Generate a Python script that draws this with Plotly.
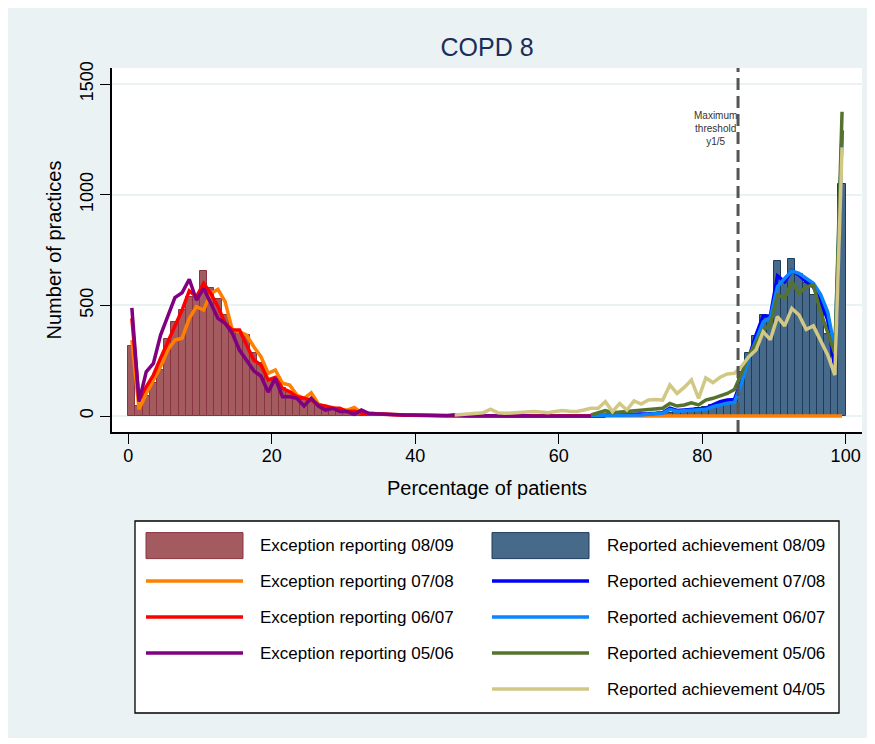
import plotly.graph_objects as go

# ---------------- data (bin start = percentage of patients, 1% bins) ----------------
exc_0809_start = 0
exc_0809 = [316, 45, 92, 148, 210, 348, 425, 479, 539, 540,
            655, 580, 530, 455, 390, 376, 368, 284, 240, 165,
            160, 125, 108, 82, 72, 70, 50, 42, 35, 27,
            20, 18, 15, 12, 10, 8, 7, 6, 5, 4,
            4, 3, 3, 2, 2, 1]

exc_0708_start = 0
exc_0708 = [343, 30, 102, 163, 223, 298, 343, 351, 441, 494,
            479, 554, 572, 517, 389, 381, 366, 313, 268, 193,
            208, 148, 140, 95, 80, 105, 54, 42, 39, 27,
            27, 39, 15, 12, 10, 8, 6, 5, 4, 3,
            3, 2, 2, 1, 1, 1, 0, 0, 0, 0,
            0, 0, 0, 0, 0, 0, 0, 0, 0, 0,
            0, 0, 0, 0, 0, 0, 0, 0, 0, 0,
            0, 0, 0, 0, 0, 0, 0, 0, 0, 0,
            0, 0, 0, 0, 0, 0, 0, 0, 0, 0,
            0, 0, 0, 0, 0, 0, 0, 0, 0, 0]

exc_0607_start = 0
exc_0607 = [441, 72, 132, 185, 261, 336, 404, 479, 565, 539,
            600, 554, 494, 419, 389, 389, 320, 253, 230, 163,
            175, 125, 110, 87, 80, 72, 50, 45, 35, 35,
            20, 22, 12, 10, 8, 6, 5, 4, 3, 3,
            2, 2, 1, 1, 1, 0, 1, 0, 0, 1,
            0, 0, 0, 0, 0, 0, 0, 0, 0, 0,
            0, 0, 0, 0, 0, 0, 0]

exc_0506_start = 0
exc_0506 = [489, 65, 200, 238, 366, 449, 535, 557, 618, 524,
            577, 509, 441, 419, 374, 298, 250, 204, 180, 108,
            170, 87, 87, 80, 45, 80, 45, 27, 35, 20,
            20, 8, 27, 12, 10, 8, 6, 5, 5, 4,
            3, 3, 2, 3, 2, 6, 2, 1, 1, 2,
            1, 1, 0, 1, 0, 1, 0, 0, 1, 0,
            0, 0, 0, 0, 0, 0, 0]

rep_0809_start = 60
rep_0809 = [0, 0, 0, 0, 0, 1, 1, 2, 2, 3,
            4, 5, 6, 8, 10, 14, 18, 22, 28, 34,
            42, 50, 58, 66, 76, 198, 284, 362, 455, 452,
            700, 602, 709, 642, 600, 548, 500, 370, 223, 1047]

rep_0708_start = 64
rep_0708 = [2, 3, 3, 4, 4, 5,
            5, 6, 10, 12, 15, 35, 25, 27, 30, 33,
            35, 50, 65, 72, 75, 163, 268, 366, 452, 452,
            633, 607, 657, 637, 607, 584, 517, 434, 208, 1290]

rep_0607_start = 64
rep_0607 = [2, 2, 3, 3, 4, 4,
            5, 5, 8, 10, 12, 30, 22, 24, 26, 28,
            30, 42, 50, 58, 62, 150, 260, 345, 425, 445,
            585, 622, 655, 645, 620, 600, 550, 470, 300, 1280]

rep_0506_start = 64
rep_0506 = [5, 15, 24, 15, 18, 20,
            22, 24, 27, 30, 35, 57, 45, 50, 60, 50,
            72, 80, 92, 102, 120, 193, 276, 328, 389, 411,
            547, 532, 607, 554, 584, 592, 471, 381, 283, 1375]

rep_0405_start = 45
rep_0405 = [5, 8, 10, 12, 15,
            31, 15, 12, 15, 18, 20, 20, 18, 15, 20,
            25, 22, 20, 27, 35, 35, 65, 20, 57, 27,
            68, 54, 72, 75, 72, 140, 102, 129, 163, 80,
            172, 151, 175, 190, 193, 225, 268, 298, 381, 345,
            449, 407, 486, 456, 391, 407, 343, 276, 185, 1214]

threshold = 85
x_ticks = [0, 20, 40, 60, 80, 100]
y_ticks = [0, 500, 1000, 1500]

# ---------------- styles ----------------
FONT = "Liberation Sans, Arial, Helvetica, sans-serif"
BG = "#eaf2f3"
EXC_FILL, EXC_EDGE = "#a45b5f", "#8a3442"
REP_FILL, REP_EDGE = "#486a8a", "#1e3d5c"
LW = 3.5
C_ORANGE, C_RED, C_PURPLE = "#ff8000", "#ff0000", "#800080"
C_BLUE, C_LBLUE, C_GREEN, C_KHAKI = "#0000ff", "#0a84ff", "#55732d", "#d2c886"

series_lines = [
    ("Exception reporting 07/08", exc_0708_start, exc_0708, C_ORANGE),
    ("Exception reporting 06/07", exc_0607_start, exc_0607, C_RED),
    ("Exception reporting 05/06", exc_0506_start, exc_0506, C_PURPLE),
    ("Reported achievement 07/08", rep_0708_start, rep_0708, C_BLUE),
    ("Reported achievement 06/07", rep_0607_start, rep_0607, C_LBLUE),
    ("Reported achievement 05/06", rep_0506_start, rep_0506, C_GREEN),
    ("Reported achievement 04/05", rep_0405_start, rep_0405, C_KHAKI),
]


def centres(start, vals):
    return [start + i + 0.5 for i in range(len(vals))]


fig = go.Figure()
fig.add_trace(go.Bar(x=centres(exc_0809_start, exc_0809), y=exc_0809, width=1,
                     marker=dict(color=EXC_FILL, line=dict(color=EXC_EDGE, width=1)),
                     name="Exception reporting 08/09", showlegend=False))
fig.add_trace(go.Bar(x=centres(rep_0809_start, rep_0809), y=rep_0809, width=1,
                     marker=dict(color=REP_FILL, line=dict(color=REP_EDGE, width=1)),
                     name="Reported achievement 08/09", showlegend=False))
for name, st, vals, col in series_lines:
    fig.add_trace(go.Scatter(x=centres(st, vals), y=vals, mode="lines", name=name,
                             line=dict(color=col, width=LW), showlegend=False))

# ---------------- layout / geometry ----------------
# the page places the figure 8px from the window's top-left corner
OFF = 8
W, H = 875, 744
ML, MT = 112 - OFF, 68 - OFF
PW, PH = 750, 364
MR, MB = W - ML - PW, H - MT - PH


def px(x):
    return (x - OFF - ML) / PW


def py(y):
    return (MT + PH - (y - OFF)) / PH


shapes = [
    # graph region background
    dict(type="rect", xref="paper", yref="paper", x0=px(0), x1=px(869), y0=py(738), y1=py(0),
         fillcolor=BG, line=dict(width=0), layer="below"),
    # plot region
    dict(type="rect", xref="paper", yref="paper", x0=0, x1=1, y0=0, y1=1,
         fillcolor="white", line=dict(width=0), layer="below"),
    # threshold line
    dict(type="line", xref="x", yref="paper", x0=threshold, x1=threshold, y0=0, y1=1,
         line=dict(color="#555555", width=3, dash="12px,6px"), layer="above"),
    # legend box
    dict(type="rect", xref="paper", yref="paper", x0=px(135), x1=px(839), y0=py(713), y1=py(521),
         fillcolor="white", line=dict(color="black", width=1.3)),
]

annotations = [
    dict(text="Maximum<br>threshold<br>y1/5", x=81.85, y=1300, xref="x", yref="y",
         showarrow=False, font=dict(family=FONT, size=10, color="#333333"), align="center"),
]

rows = [545.6, 581, 617, 653, 689]
left_items = [("Exception reporting 08/09", "bar", EXC_FILL, EXC_EDGE),
              ("Exception reporting 07/08", "line", C_ORANGE, None),
              ("Exception reporting 06/07", "line", C_RED, None),
              ("Exception reporting 05/06", "line", C_PURPLE, None)]
right_items = [("Reported achievement 08/09", "bar", REP_FILL, REP_EDGE),
               ("Reported achievement 07/08", "line", C_BLUE, None),
               ("Reported achievement 06/07", "line", C_LBLUE, None),
               ("Reported achievement 05/06", "line", C_GREEN, None),
               ("Reported achievement 04/05", "line", C_KHAKI, None)]

for items, sx0, sx1, tx in [(left_items, 146, 243, 258), (right_items, 492, 589, 605)]:
    for (label, kind, col, edge), ry in zip(items, rows):
        if kind == "bar":
            shapes.append(dict(type="rect", xref="paper", yref="paper",
                               x0=px(sx0), x1=px(sx1), y0=py(ry + 13), y1=py(ry - 13),
                               fillcolor=col, line=dict(color=edge, width=1)))
        else:
            shapes.append(dict(type="line", xref="paper", yref="paper",
                               x0=px(sx0), x1=px(sx1), y0=py(ry), y1=py(ry),
                               line=dict(color=col, width=LW)))
        annotations.append(dict(text=label, xref="paper", yref="paper", x=px(tx), y=py(ry),
                                xanchor="left", yanchor="middle", showarrow=False,
                                font=dict(family=FONT, size=17, color="black")))

fig.update_layout(
    width=W, height=H,
    margin=dict(l=ML, r=MR, t=MT, b=MB, pad=0),
    paper_bgcolor="white", plot_bgcolor="white",
    font=dict(family=FONT, color="black"),
    title=dict(text="COPD 8", x=0.5, xref="paper", xanchor="center",
               y=1 - (47.3 - OFF) / H, yref="container", yanchor="middle",
               font=dict(family=FONT, size=25, color="#1c2d5a")),
    barmode="overlay",
    bargap=0,
    shapes=shapes,
    annotations=annotations,
    showlegend=False,
)
fig.update_xaxes(range=[-2.27, 102.28], tickvals=x_ticks, ticks="outside", ticklen=10,
                 tickwidth=1.3, tickcolor="black", showline=True, linecolor="black", linewidth=1.5,
                 showgrid=False, zeroline=False, tickfont=dict(size=18), ticklabelstandoff=-3,
                 title=dict(text="Percentage of patients", font=dict(size=20), standoff=16))
fig.update_yaxes(range=[-72.3, 1572.5], tickvals=y_ticks, ticks="outside", ticklen=10,
                 tickwidth=1.3, tickcolor="black", showline=True, linecolor="black", linewidth=1.5,
                 showgrid=True, gridcolor=BG, gridwidth=2, zeroline=False, tickangle=-90,
                 tickfont=dict(size=18),
                 title=dict(text="Number of practices", font=dict(size=20), standoff=10))

fig.write_html("out.html")
